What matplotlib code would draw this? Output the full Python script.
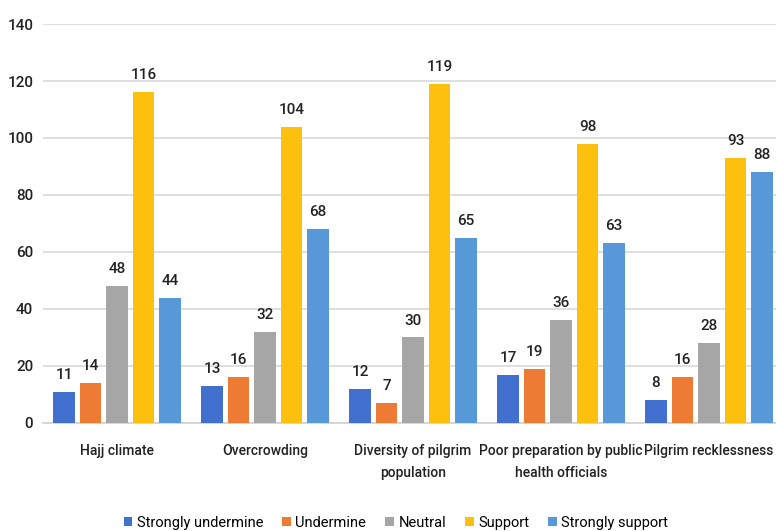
import matplotlib.pyplot as plt
import numpy as np

plt.rcParams['font.family'] = ['Roboto', 'DejaVu Sans']

categories = ['Hajj climate', 'Overcrowding', 'Diversity of pilgrim\npopulation',
              'Poor preparation by public\nhealth officials', 'Pilgrim recklessness']
series = ['Strongly undermine', 'Undermine', 'Neutral', 'Support', 'Strongly support']
strongly_undermine = [11, 13, 12, 17, 8]
undermine = [14, 16, 7, 19, 16]
neutral = [48, 32, 30, 36, 28]
support = [116, 104, 119, 98, 93]
strongly_support = [44, 68, 65, 63, 88]
colors = ['#4170CF', '#EE7B33', '#A6A6A6', '#FEC00F', '#5799D8']

values = [strongly_undermine, undermine, neutral, support, strongly_support]

fig = plt.figure(figsize=(7.76, 5.31), dpi=100)
# axes runs slightly past the right edge, like the cropped original
ax = fig.add_axes([0.0554, 0.2034, 0.9536, 0.7514])

x = np.arange(len(categories))
step = 0.179
width = 0.143
for i, (name, vals, c) in enumerate(zip(series, values, colors)):
    pos = x + (i - 2) * step
    ax.bar(pos, vals, width, color=c, label=name, zorder=3)
    for p, v in zip(pos, vals):
        ax.text(p, v + 3.5, str(v), ha='center', va='bottom', fontsize=11,
                color='#222222', fontweight='medium')

ax.set_xlim(-0.5, len(categories) - 0.5)
ax.set_ylim(0, 140)
ax.set_yticks(range(0, 141, 20))
ax.yaxis.grid(True, color='#D9D9D9', linewidth=1.2, zorder=0)
ax.set_axisbelow(True)
for s in ['top', 'right', 'left']:
    ax.spines[s].set_visible(False)
ax.spines['bottom'].set_color('#D0D0D0')
ax.spines['bottom'].set_linewidth(1.2)
ax.tick_params(axis='both', length=0, colors='#222222')
ax.tick_params(axis='y', pad=7, labelsize=11)
ax.tick_params(axis='x', pad=15, labelsize=10)
ax.set_xticks(x)
ax.set_xticklabels(categories, linespacing=1.7, fontweight='medium')
for t in ax.get_yticklabels():
    t.set_fontweight('medium')

fig.legend(loc='lower center', bbox_to_anchor=(0.51, -0.022), ncol=5, frameon=False,
           fontsize=10.5, handlelength=0.6, handleheight=0.6, handletextpad=0.3,
           columnspacing=1.3)

fig.savefig('out.png', dpi=100)
